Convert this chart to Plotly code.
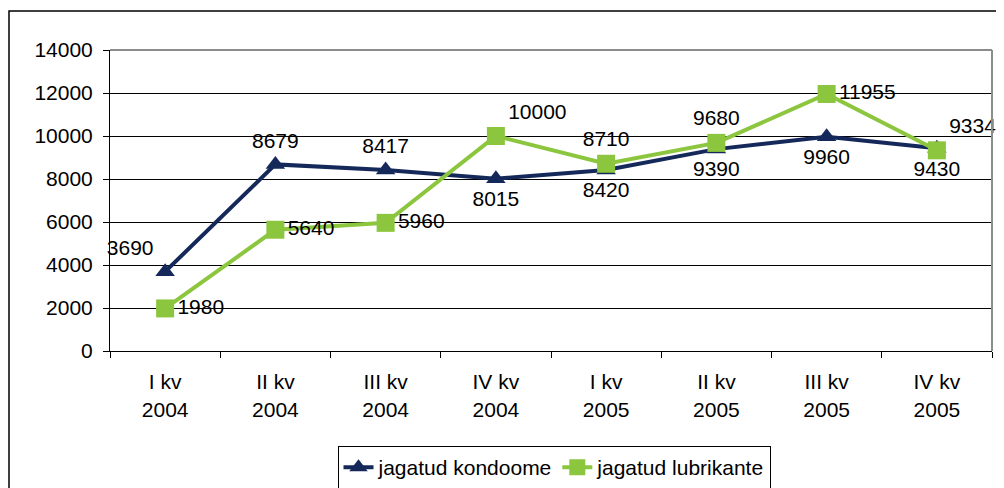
import plotly.graph_objects as go

categories = ["I kv<br>2004", "II kv<br>2004", "III kv<br>2004", "IV kv<br>2004",
              "I kv<br>2005", "II kv<br>2005", "III kv<br>2005", "IV kv<br>2005"]
kondoome = [3690, 8679, 8417, 8015, 8420, 9390, 9960, 9430]
lubrikante = [1980, 5640, 5960, 10000, 8710, 9680, 11955, 9334]
y_ticks = [0, 2000, 4000, 6000, 8000, 10000, 12000, 14000]
y_tick_labels = ["0", "2000", "4000", "6000", "8000", "10000", "12000", "14000"]

kond_pos = ["top left", "top center", "top center", "bottom center",
            "bottom center", "bottom center", "bottom center", "bottom center"]
lub_pos = ["middle right", "middle right", "middle right", "top right",
           "top center", "top center", "middle right", "top right"]

navy = "#14285A"
green = "#8CC63E"
FONT = "Liberation Sans, Arial, sans-serif"
FS = 21

fig = go.Figure()
fig.add_trace(go.Scatter(
    x=categories, y=kondoome, name="jagatud kondoome",
    mode="lines+markers+text",
    line=dict(color=navy, width=4),
    marker=dict(symbol="triangle-up", size=17, color=navy),
    text=[str(v) for v in kondoome], textposition=kond_pos,
    textfont=dict(size=FS, color="black", family=FONT),
    cliponaxis=False,
))
fig.add_trace(go.Scatter(
    x=categories, y=lubrikante, name="jagatud lubrikante",
    mode="lines+markers+text",
    line=dict(color=green, width=4),
    marker=dict(symbol="square", size=18, color=green),
    text=[str(v) for v in lubrikante], textposition=lub_pos,
    textfont=dict(size=FS, color="black", family=FONT),
    cliponaxis=False,
))

# page is offset by the 8px body margin
OFF = 8
W, H = 1004 - OFF, 488 - OFF
L = 110 - OFF
T = 50 - OFF
R = W - (992 - OFF)
B = H - (351 - OFF)
pw = W - L - R
ph = H - T - B

fig.update_layout(
    width=W, height=H,
    margin=dict(l=L, r=R, t=T, b=B, autoexpand=False),
    paper_bgcolor="white", plot_bgcolor="white",
    font=dict(family=FONT, size=FS, color="black"),
    showlegend=True,
    legend=dict(
        orientation="h", x=(554 - OFF - L) / pw, xanchor="center",
        y=(ph + T - (446 - OFF)) / ph, yanchor="top",
        bordercolor="black", borderwidth=1,
        font=dict(size=FS, family=FONT),
        tracegroupgap=0,
    ),
    xaxis=dict(
        type="category", tickson="boundaries", ticks="outside", ticklen=6,
        tickcolor="black", showline=True, linecolor="black", linewidth=1,
        showgrid=False, tickfont=dict(size=FS, family=FONT),
        range=[-0.5, 7.5], ticklabelstandoff=12,
    ),
    yaxis=dict(
        range=[0, 14000], tickvals=y_ticks, ticktext=y_tick_labels,
        ticks="outside", ticklen=6,
        tickcolor="black", showline=True, linecolor="black", linewidth=1,
        showgrid=True, gridcolor="black", gridwidth=1,
        tickfont=dict(size=FS, family=FONT), zeroline=False,
        ticklabelstandoff=6,
    ),
    shapes=[
        dict(type="line", xref="paper", yref="paper", x0=0, x1=1, y0=1, y1=1,
             line=dict(color="#8c8c8c", width=2)),
        dict(type="line", xref="paper", yref="paper", x0=1, x1=1, y0=0, y1=1,
             line=dict(color="#8c8c8c", width=2)),
        dict(type="rect", xref="paper", yref="paper",
             x0=(1 - L) / pw, x1=(W + 20 - L) / pw,
             y0=-(B + 20) / ph, y1=(ph + T - (11 - OFF)) / ph,
             line=dict(color="black", width=1.5), layer="below"),
    ],
)

fig.write_html("out.html")
